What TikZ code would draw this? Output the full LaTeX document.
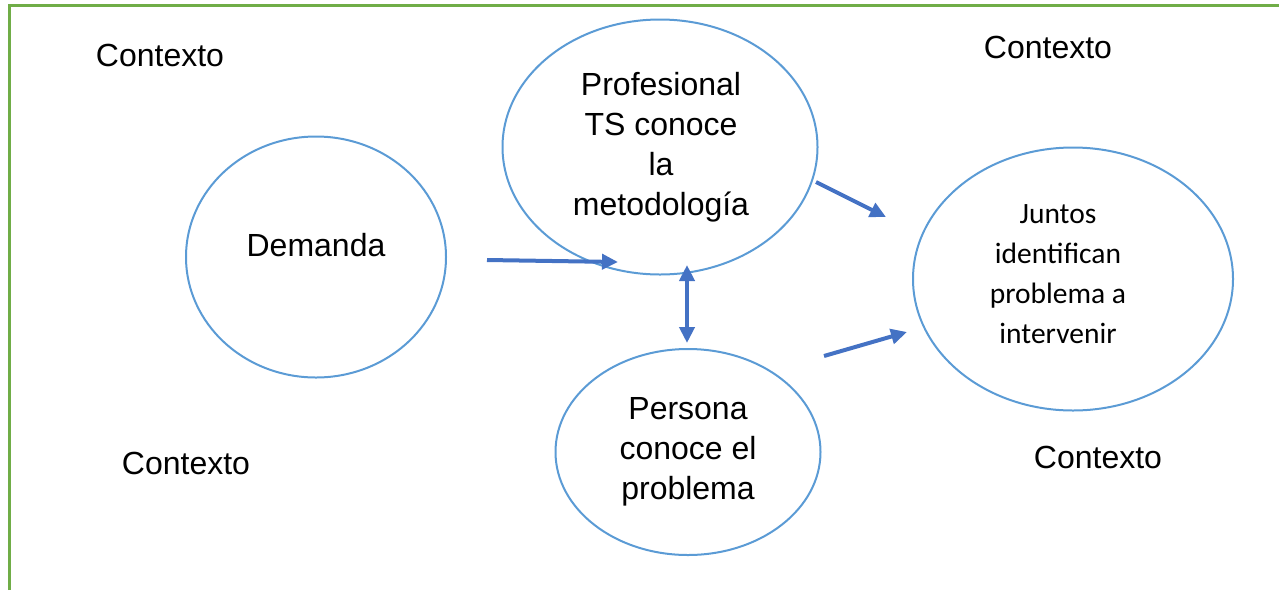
\documentclass[tikz,border=0pt]{standalone}
\usepackage{fontspec}
\setmainfont{Liberation Sans}
\newfontfamily\calib{Carlito}
\usetikzlibrary{arrows.meta,shapes.geometric}
\definecolor{frame}{HTML}{70AD47}
\definecolor{ring}{HTML}{5B9BD5}
\definecolor{arr}{HTML}{4472C4}
\tikzset{
  ringnode/.style={draw=ring, line width=2pt, ellipse, inner sep=0pt},
  lbl/.style={align=center, font=\fontsize{32}{40}\selectfont, inner sep=0pt},
  lblc/.style={align=center, font=\calib\fontsize{29.5}{40}\selectfont, inner sep=0pt},
  ctx/.style={font=\fontsize{32}{36}\selectfont, inner sep=0pt},
  conn/.style={draw=arr, line width=4pt, -{Triangle[length=16pt,width=15pt]}},
  conn2/.style={draw=arr, line width=4pt, {Triangle[length=16pt,width=15pt]}-{Triangle[length=16pt,width=15pt]}},
}
\begin{document}
\begin{tikzpicture}[x=1pt,y=-1pt]
\useasboundingbox (0,0) rectangle (1279,590);
% frame
\draw[frame, line width=3pt] (9.5,590) -- (9.5,5.5) -- (1279,5.5);
% ellipses
\node[ringnode, minimum width=260pt, minimum height=241pt] (dem) at (316,257) {};
\node[ringnode, minimum width=315pt, minimum height=255pt] (prof) at (660,147) {};
\node[ringnode, minimum width=265pt, minimum height=206pt] (pers) at (688,452) {};
\node[ringnode, minimum width=320pt, minimum height=263pt] (junt) at (1073,279) {};
% labels
\node[lbl] (tdem) at (316,245) {Demanda};
\node[lbl] (tprof) at (661,147) {Profesional\\TS conoce\\la\\metodología};
\node[lbl] (tpers) at (688,452) {Persona\\conoce el\\problema};
\node[lblc] (tjunt) at (1058,274) {Juntos\\identifican\\problema a\\intervenir};
\node[ctx] (c1) at (160,55) {Contexto};
\node[ctx] (c2) at (1048,47) {Contexto};
\node[ctx] (c3) at (186,463) {Contexto};
\node[ctx] (c4) at (1098,457) {Contexto};
% connector ends
\coordinate (a1s) at (487,260);
\coordinate (a1e) at (618,262);
\coordinate (a2s) at (687,265);
\coordinate (a2e) at (687,343);
\coordinate (a3s) at (816,182);
\coordinate (a3e) at (886,217);
\coordinate (a4s) at (824,356);
\coordinate (a4e) at (907,332);
\draw[conn] (a1s) -- (a1e);
\draw[conn2] (a2s) -- (a2e);
\draw[conn] (a3s) -- (a3e);
\draw[conn] (a4s) -- (a4e);
\end{tikzpicture}
\end{document}
